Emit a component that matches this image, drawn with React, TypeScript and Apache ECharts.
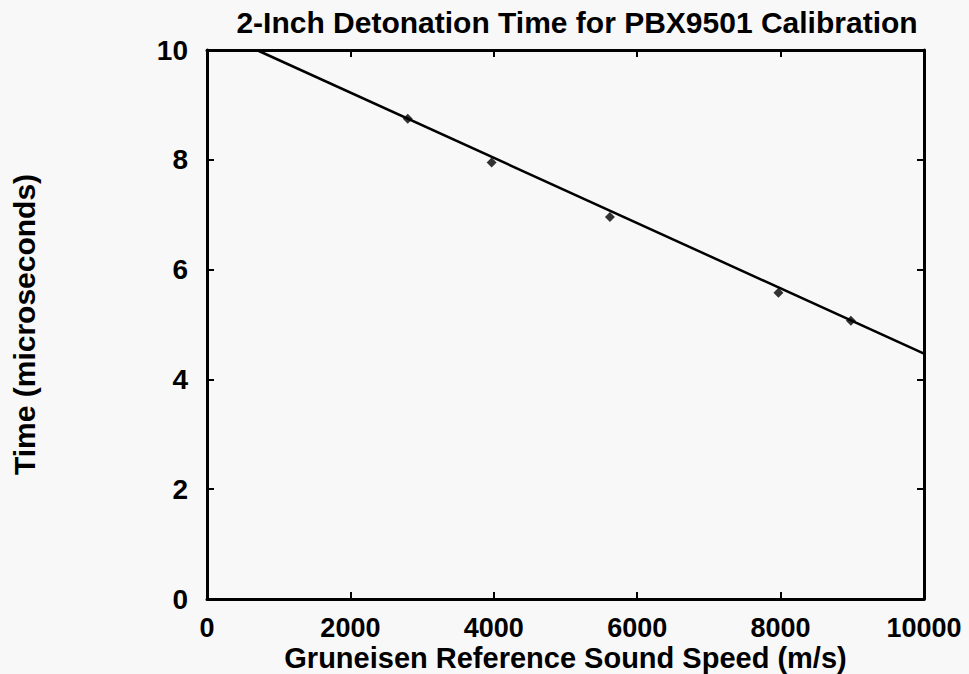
import React, { useEffect, useRef } from "react";
import * as echarts from "echarts";

const soundSpeed = [2800, 3970, 5620, 7970, 8980];
const detonationTime = [8.75, 7.95, 6.96, 5.58, 5.07];
const fitLineX = [693, 10000];
const fitLineY = [10, 4.47];
const xTicks = [0, 2000, 4000, 6000, 8000, 10000];
const yTicks = [0, 2, 4, 6, 8, 10];

const FONT = "Liberation Sans, Arial, Helvetica, sans-serif";

export default function App() {
  const ref = useRef<HTMLDivElement>(null);
  useEffect(() => {
    if (!ref.current) return;
    const chart = echarts.init(ref.current, undefined, { renderer: "svg" });
    const textStyle = { fontFamily: FONT, fontWeight: "bold" as const, fontSize: 28, color: "#000" };
    const axisCommon = {
      axisLine: { show: true, onZero: false, lineStyle: { color: "#000", width: 3 } },
      axisTick: { show: true, inside: true, length: 7, lineStyle: { color: "#000", width: 2 } },
      splitLine: { show: false },
    };
    const fmt = (v: number) => String(v);
    chart.setOption({
      animation: false,
      backgroundColor: "#f8f8f8",
      title: {
        text: "2-Inch Detonation Time for PBX9501 Calibration",
        left: 572,
        top: 2,
        textAlign: "center",
        textStyle: { ...textStyle, fontSize: 30 },
      },
      grid: { left: 207, right: 45, top: 50, bottom: 75, containLabel: false, outerBoundsMode: "none" },
      xAxis: [
        {
          type: "value",
          min: xTicks[0],
          max: xTicks[xTicks.length - 1],
          interval: 2000,
          position: "bottom",
          name: "Gruneisen Reference Sound Speed (m/s)",
          nameLocation: "middle",
          nameGap: 44,
          nameMoveOverlap: false,
          nameTextStyle: { ...textStyle, fontSize: 29 },
          axisLabel: { ...textStyle, fontSize: 27, margin: 15, formatter: fmt },
          ...axisCommon,
        },
        {
          type: "value",
          min: xTicks[0],
          max: xTicks[xTicks.length - 1],
          interval: 2000,
          position: "top",
          axisLabel: { show: false },
          ...axisCommon,
        },
      ],
      yAxis: [
        {
          type: "value",
          min: yTicks[0],
          max: yTicks[yTicks.length - 1],
          interval: 2,
          position: "left",
          name: "Time (microseconds)",
          nameLocation: "middle",
          nameGap: 168,
          nameMoveOverlap: false,
          nameTextStyle: { ...textStyle, fontSize: 30 },
          axisLabel: { ...textStyle, margin: 19, formatter: fmt },
          ...axisCommon,
        },
        {
          type: "value",
          min: yTicks[0],
          max: yTicks[yTicks.length - 1],
          interval: 2,
          position: "right",
          axisLabel: { show: false },
          ...axisCommon,
        },
      ],
      series: [
        {
          type: "line",
          data: fitLineX.map((x, i) => [x, fitLineY[i]]),
          showSymbol: false,
          symbol: "none",
          lineStyle: { color: "#000", width: 2.5 },
          z: 2,
        },
        {
          type: "scatter",
          data: soundSpeed.map((x, i) => [x, detonationTime[i]]),
          symbol: "diamond",
          symbolSize: 10,
          itemStyle: { color: "#000" },
          z: 3,
        },
      ],
    });
    return () => chart.dispose();
  }, []);
  return <div ref={ref} style={{ width: 969, height: 674, position: "absolute", left: 0, top: 0 }} />;
}
